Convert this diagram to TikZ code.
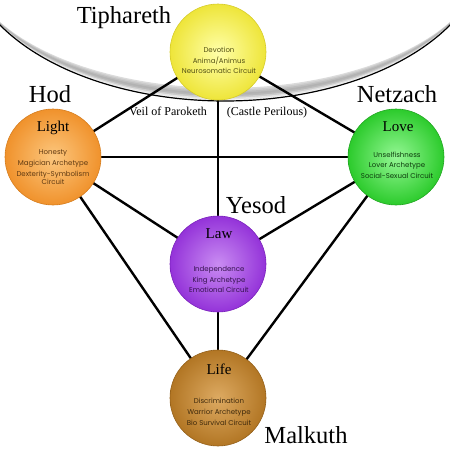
\documentclass[tikz,border=0pt]{standalone}
\usepackage{fontspec}
\setmainfont{Liberation Serif}
\newfontfamily\bodyfont{Poppins}
\pgfdeclarelayer{arcs}
\pgfdeclarelayer{links}
\pgfsetlayers{arcs,links,main}
\definecolor{yin}{HTML}{FFFFA8}
\definecolor{yout}{HTML}{EEE53A}
\definecolor{yrim}{HTML}{D6CC2A}
\definecolor{oin}{HTML}{FCC77E}
\definecolor{oout}{HTML}{F0922C}
\definecolor{orim}{HTML}{D67D1E}
\definecolor{gin}{HTML}{94F794}
\definecolor{gout}{HTML}{2CCB2C}
\definecolor{grim}{HTML}{22A622}
\definecolor{pin}{HTML}{C98CF2}
\definecolor{pout}{HTML}{9433D9}
\definecolor{prim}{HTML}{7A22BB}
\definecolor{bin}{HTML}{DDAA62}
\definecolor{bout}{HTML}{B27624}
\definecolor{brim}{HTML}{94601A}
\begin{document}
\begin{tikzpicture}[x=1pt,y=-1pt,
  big/.style={font=\fontsize{24.5}{28}\selectfont, anchor=base, inner sep=0pt},
  ttl/.style={font=\fontsize{15}{18}\selectfont, anchor=base, inner sep=0pt},
  body/.style={font=\bodyfont\fontsize{7}{9}\selectfont, anchor=base, inner sep=0pt},
  veil/.style={font=\fontsize{12}{14}\selectfont, anchor=base, inner sep=0pt},
  link/.style={line width=2.4pt},
  sphere/.style={circle, minimum size=96pt, inner sep=0pt, line width=0.6pt, shade},
]
\useasboundingbox (0,0) rectangle (450,450);

% spheres
\node[sphere, draw=yrim, inner color=yin, outer color=yout] (tiph) at (218,52) {};
\node[sphere, draw=orim, inner color=oin, outer color=oout] (hod) at (53,157) {};
\node[sphere, draw=grim, inner color=gin, outer color=gout] (netz) at (396,157) {};
\node[sphere, draw=prim, inner color=pin, outer color=pout] (yesod) at (218,264) {};
\node[sphere, draw=brim, inner color=bin, outer color=bout] (malk) at (218,398) {};

% veil arc
\begin{pgfonlayer}{arcs}
\begin{scope}
\clip (0,0) rectangle (450,450);
\foreach \i/\c in {0/14,1/20,2/26,3/30,4/28,5/20,6/10,7/4} {
  \pgfmathsetmacro\bb{132.3+20*\i/8}
  \pgfmathsetmacro\cc{-44.3-7*\i/8}
  \fill[black!\c] plot[domain=20:160,samples=90,variable=\t] ({225+260*cos(\t)},{\cc+\bb*sin(\t)})
     -- plot[domain=160:20,samples=90,variable=\t] ({225+260*cos(\t)},{-51.3+152.3*sin(\t)}) -- cycle;
}
\draw[line width=1.2pt] plot[domain=20:160,samples=120,variable=\t] ({225+260*cos(\t)},{-51.3+152.3*sin(\t)});
\end{scope}
\end{pgfonlayer}

% links
\begin{pgfonlayer}{links}
\draw[link] (tiph.center) -- (hod.center);
\draw[link] (tiph.center) -- (netz.center);
\draw[link] (tiph.center) -- (yesod.center);
\draw[link] (hod.center) -- (netz.center);
\draw[link] (hod.center) -- (yesod.center);
\draw[link] (netz.center) -- (yesod.center);
\draw[link] (hod.center) -- (malk.center);
\draw[link] (netz.center) -- (malk.center);
\draw[link] (yesod.center) -- (malk.center);
\end{pgfonlayer}

% sephiroth names
\node[big] (ltiph) at (124,23) {Tiphareth};
\node[big] (lhod) at (50,102) {Hod};
\node[big] (lnetz) at (397,102) {Netzach};
\node[big] (lyesod) at (256,213) {Yesod};
\node[big] (lmalk) at (306,443) {Malkuth};

% veil
\node[veil] (veil1) at (168,115) {Veil of Paroketh};
\node[veil] (veil2) at (267,115) {(Castle Perilous)};

% titles
\node[ttl] (t2) at (53,131) {Light};
\node[ttl] (t3) at (398,131) {Love};
\node[ttl] (t4) at (219,238) {Law};
\node[ttl] (t5) at (219,374) {Life};

% body texts
\begin{scope}[every node/.append style={text=yout!35!black}]
\node[body] (b11) at (219,52) {Devotion};
\node[body] (b12) at (219,63) {Anima/Animus};
\node[body] (b13) at (219,73) {Neurosomatic Circuit};
\end{scope}
\begin{scope}[every node/.append style={text=oout!40!black}]
\node[body] (b21) at (53,154) {Honesty};
\node[body] (b22) at (53,165) {Magician Archetype};
\node[body] (b23) at (53,176) {Dexterity-Symbolism};
\node[body] (b24) at (53,184) {Circuit};
\end{scope}
\begin{scope}[every node/.append style={text=gout!30!black}]
\node[body] (b31) at (397,157) {Unselfishness};
\node[body] (b32) at (397,167) {Lover Archetype};
\node[body] (b33) at (397,178) {Social-Sexual Circuit};
\end{scope}
\begin{scope}[every node/.append style={text=pout!35!black}]
\node[body] (b41) at (219,271) {Independence};
\node[body] (b42) at (219,282) {King Archetype};
\node[body] (b43) at (219,292) {Emotional Circuit};
\end{scope}
\begin{scope}[every node/.append style={text=bout!35!black}]
\node[body] (b51) at (219,403) {Discrimination};
\node[body] (b52) at (219,414) {Warrior Archetype};
\node[body] (b53) at (219,425) {Bio Survival Circuit};
\end{scope}
\end{tikzpicture}
\end{document}
